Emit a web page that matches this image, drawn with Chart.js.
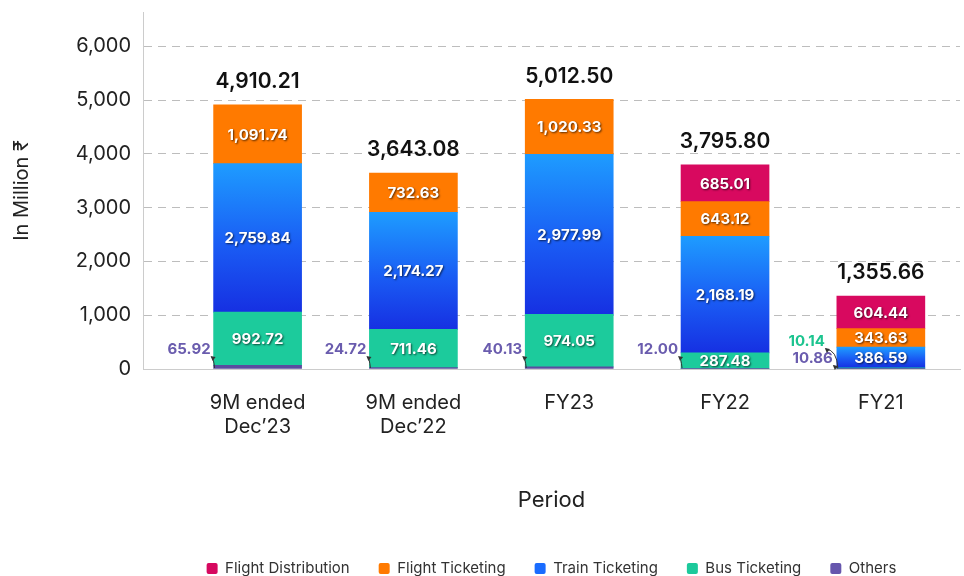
<!DOCTYPE html>
<html>
<head>
<meta charset="utf-8">
<script src="https://cdn.jsdelivr.net/npm/chart.js@4.4.1/dist/chart.umd.min.js"></script>
<style>
  html, body { margin: 0; padding: 0; background: #ffffff; }
  #wrap { width: 964px; height: 576px; position: relative; }
</style>
</head>
<body>
<div id="wrap"><canvas id="c"></canvas></div>
<script>
// Revenue by segment, in million ₹
const periods = [['9M ended', 'Dec\u201923'], ['9M ended', 'Dec\u201922'], 'FY23', 'FY22', 'FY21'];
const others = [65.92, 24.72, 40.13, 12.00, 10.86];
const busTicketing = [992.72, 711.46, 974.05, 287.48, 10.14];
const trainTicketing = [2759.84, 2174.27, 2977.99, 2168.19, 386.59];
const flightTicketing = [1091.74, 732.63, 1020.33, 643.12, 343.63];
const flightDistribution = [null, null, null, 685.01, 604.44];
const totals = [4910.21, 3643.08, 5012.50, 3795.80, 1355.66];
const yTicks = [0, 1000, 2000, 3000, 4000, 5000, 6000];

const FONT = "Inter, 'Noto Sans', 'DejaVu Sans', sans-serif";
const fmt = v => v.toLocaleString('en-US', { minimumFractionDigits: 2, maximumFractionDigits: 2 });
const points = arr => arr.map((v, i) => (v == null ? null : { x: i, y: v })).filter(Boolean);

// vertical blue gradient across each train segment
function trainFill(ctx) {
  const chart = ctx.chart;
  const y = chart.scales && chart.scales.y;
  if (!y || ctx.type !== 'data' || !ctx.raw) return '#1a6cff';
  const i = ctx.raw.x;
  const lo = others[i] + busTicketing[i];
  const hi = lo + trainTicketing[i];
  const y0 = y.getPixelForValue(lo), y1 = y.getPixelForValue(hi);
  if (!isFinite(y0) || !isFinite(y1) || y0 === y1) return '#1a6cff';
  const g = chart.ctx.createLinearGradient(0, y1, 0, y0);
  g.addColorStop(0, '#1e9cff');
  g.addColorStop(0.55, '#1a5cf4');
  g.addColorStop(1, '#1630e2');
  return g;
}

const legendColors = {
  'Flight Distribution': '#d6085f',
  'Flight Ticketing': '#ff7a00',
  'Train Ticketing': '#1a6cff',
  'Bus Ticketing': '#1cc99b',
  'Others': '#6656ad'
};

const datasets = [
  { label: 'Others', data: points(others), backgroundColor: '#5a4c9f', labelColor: '#6a5cae' },
  { label: 'Bus Ticketing', data: points(busTicketing), backgroundColor: '#1ccb9c', labelColor: '#1cc48f' },
  { label: 'Train Ticketing', data: points(trainTicketing), backgroundColor: trainFill, labelColor: '#1a6cff' },
  { label: 'Flight Ticketing', data: points(flightTicketing), backgroundColor: '#ff7a00', labelColor: '#ff7a00' },
  { label: 'Flight Distribution', data: points(flightDistribution), backgroundColor: '#d8095f', labelColor: '#d8095f' }
].map(d => Object.assign(d, { barThickness: 88, borderWidth: 0 }));

// value labels: inside segments, outside for thin segments, totals on top
const stackLabels = {
  id: 'stackLabels',
  afterDatasetsDraw(chart) {
    const ctx = chart.ctx;
    const yScale = chart.scales.y;
    const outside = periods.map(() => []);
    const barOf = [];
    ctx.save();
    ctx.textAlign = 'center';
    ctx.textBaseline = 'middle';
    chart.data.datasets.forEach((ds, di) => {
      const meta = chart.getDatasetMeta(di);
      meta.data.forEach((bar, k) => {
        const raw = ds.data[k];
        const i = raw.x;
        barOf[i] = bar;
        const h = Math.abs(bar.base - bar.y);
        if (h >= 14) {
          ctx.save();
          ctx.font = `700 15px ${FONT}`;
          ctx.shadowColor = 'rgba(0,0,0,0.65)';
          ctx.shadowOffsetX = 1;
          ctx.shadowOffsetY = 1;
          ctx.shadowBlur = 2;
          ctx.fillStyle = '#ffffff';
          ctx.fillText(fmt(raw.y), bar.x, (bar.y + bar.base) / 2 + 1);
          ctx.restore();
        } else {
          outside[i].push({ value: raw.y, color: ds.labelColor, bar });
        }
      });
    });

    outside.forEach((items, i) => {
      if (!items.length) return;
      const bar = barOf[i];
      const left = bar.x - bar.width / 2;
      const base = yScale.getPixelForValue(0);
      items.forEach((it, n) => {
        let ly, gap;
        if (items.length === 1) { ly = base - 20; gap = 3; }
        else { ly = n === 0 ? base - 11 : base - 28; gap = n === 0 ? 4 : 12; }
        const right = left - gap;
        ctx.font = `700 15px ${FONT}`;
        ctx.textAlign = 'right';
        ctx.fillStyle = it.color;
        ctx.fillText(fmt(it.value), right, ly);
        // small curved pointer from the label down to the segment
        const sx = right + 1, sy = ly + 8;
        const ex = left + 1, ey = base - 1;
        ctx.beginPath();
        ctx.strokeStyle = '#333333';
        ctx.lineWidth = 1;
        ctx.moveTo(sx, sy);
        ctx.quadraticCurveTo(ex - 1, sy + 1, ex, ey);
        ctx.stroke();
        ctx.beginPath();
        ctx.fillStyle = '#333333';
        ctx.moveTo(sx - 1, sy - 1);
        ctx.lineTo(sx + 4, sy);
        ctx.lineTo(sx + 1, sy + 4);
        ctx.closePath();
        ctx.fill();
      });
    });

    ctx.textAlign = 'center';
    ctx.font = `600 21px ${FONT}`;
    ctx.fillStyle = '#111111';
    totals.forEach((t, i) => {
      const bar = barOf[i];
      if (!bar) return;
      ctx.fillText(fmt(t), bar.x, yScale.getPixelForValue(t) - 23);
    });
    ctx.restore();
  }
};

new Chart(document.getElementById('c'), {
  type: 'bar',
  data: { datasets },
  options: {
    responsive: true,
    maintainAspectRatio: false,
    animation: false,
    layout: { padding: { top: 12, right: 4, left: 10, bottom: -10 } },
    plugins: {
      tooltip: { enabled: false },
      legend: {
        position: 'bottom',
        fullSize: false,
        reverse: true,
        labels: {
          font: { family: FONT, size: 15 },
          color: '#333333',
          boxWidth: 11,
          boxHeight: 11,
          padding: 29,
          useBorderRadius: true,
          borderRadius: 2,
          generateLabels(chart) {
            const items = Chart.defaults.plugins.legend.labels.generateLabels(chart);
            items.forEach(it => {
              it.fillStyle = legendColors[it.text];
              it.strokeStyle = 'rgba(0,0,0,0)';
              it.lineWidth = 0;
            });
            return items;
          }
        }
      }
    },
    scales: {
      x: {
        type: 'linear',
        stacked: true,
        offset: false,
        min: -0.7355,
        max: 4.508,
        afterBuildTicks: s => { s.ticks = periods.map((_, i) => ({ value: i })); },
        afterFit: s => { s.height = 163; },
        grid: { display: false, drawTicks: false },
        border: { display: true, color: '#cccccc', width: 1 },
        ticks: {
          padding: 22,
          autoSkip: false,
          maxRotation: 0,
          color: '#222222',
          font: { family: FONT, size: 20 },
          callback: v => periods[v]
        },
        title: {
          display: true,
          text: 'Period',
          color: '#222222',
          font: { family: FONT, size: 22 },
          padding: { top: 0, bottom: 18 }
        }
      },
      y: {
        stacked: true,
        min: 0,
        max: 6637,
        afterBuildTicks: s => { s.ticks = yTicks.map(v => ({ value: v })); },
        afterFit: s => { s.width = 133; s.paddingTop = 0; s.paddingBottom = 0; },
        grid: { color: '#bdbdbd', lineWidth: 1, drawTicks: false },
        border: { display: true, color: '#cccccc', width: 1, dash: [8, 6] },
        ticks: {
          padding: 12,
          color: '#222222',
          font: { family: FONT, size: 20 },
          callback: v => v.toLocaleString('en-US')
        },
        title: {
          display: true,
          text: 'In Million \u20B9',
          color: '#222222',
          font: { family: FONT, size: 20 },
          padding: { top: 0, bottom: 0 }
        }
      }
    }
  },
  plugins: [stackLabels]
});
</script>
</body>
</html>
